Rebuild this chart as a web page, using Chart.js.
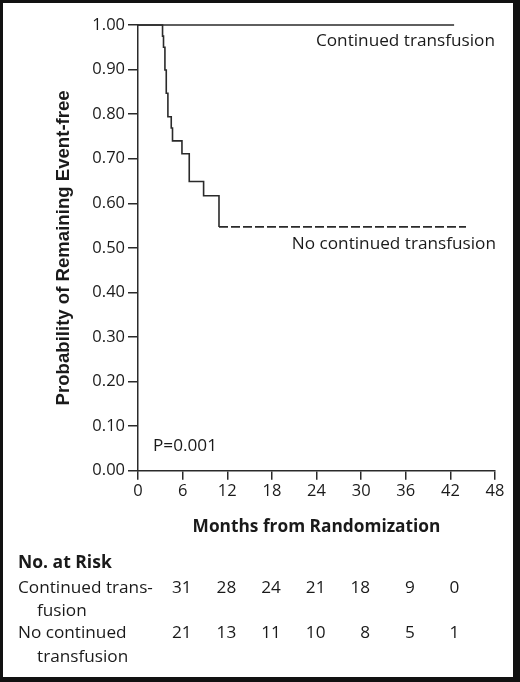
<!DOCTYPE html>
<html>
<head>
<meta charset="utf-8">
<script src="https://cdn.jsdelivr.net/npm/chart.js@4.4.1/dist/chart.umd.min.js"></script>
<style>
  html, body { margin: 0; padding: 0; background: #fff; }
  #frame {
    width: 520px; height: 682px; box-sizing: border-box;
    border-style: solid; border-color: #111;
    border-width: 3px 7px 5px 3px;
  }
  canvas { display: block; }
</style>
</head>
<body>
<div id="frame"><canvas id="chart" width="510" height="674"></canvas></div>
<script>
// Kaplan-Meier curves: months, probability event-free
var contTimes = [0, 42.5];
var contSurv = [1.0, 1.0];
var noContTimes = [0, 3.30, 3.43, 3.62, 3.80, 4.02, 4.47, 4.64, 5.91, 6.89, 8.82, 10.89, 44.1];
var noContSurv = [1.0, 0.975, 0.950, 0.899, 0.847, 0.794, 0.769, 0.740, 0.711, 0.649, 0.617, 0.547, 0.547];

// number at risk table
var riskMonths = [6, 12, 18, 24, 30, 36, 42];
var riskCont = [31, 28, 24, 21, 18, 9, 0];
var riskNoCont = [21, 13, 11, 10, 8, 5, 1];

var xTicks = [0, 6, 12, 18, 24, 30, 36, 42, 48];
var yTicks = [0, 0.1, 0.2, 0.3, 0.4, 0.5, 0.6, 0.7, 0.8, 0.9, 1.0];

function toPoints(xs, ys) {
    return xs.map(function (x, i) { return {x: x, y: ys[i]}; });
}

var ink = '#2a2a2a';
var txt = '#1a1a1a';
var sans = '"Open Sans", "Noto Sans", sans-serif';

var labelsPlugin = {
    id: 'kmLabels',
    afterDraw: function (chart) {
        var ctx = chart.ctx;
        var xs = chart.scales.x;
        var area = chart.chartArea;
        ctx.save();
        ctx.fillStyle = txt;
        ctx.textBaseline = 'middle';
        ctx.font = '17.2px ' + sans;

        // curve labels
        ctx.textAlign = 'right';
        ctx.fillText('Continued transfusion', area.right, 38);
        ctx.fillText('No continued transfusion', area.right + 1, 241);
        ctx.textAlign = 'left';
        ctx.fillText('P=0.001', 150, 443);

        // risk table
        ctx.font = 'bold 17.5px ' + sans;
        ctx.fillText('No. at Risk', 15, 560);
        ctx.font = '17.2px ' + sans;
        ctx.fillText('Continued trans-', 15, 585);
        ctx.fillText('fusion', 34, 608);
        ctx.fillText('No continued', 15, 630);
        ctx.fillText('transfusion', 34, 654);

        ctx.textAlign = 'right';
        riskMonths.forEach(function (m, i) {
            var px = xs.getPixelForValue(m) + 9;
            ctx.fillText(String(riskCont[i]), px, 585);
            ctx.fillText(String(riskNoCont[i]), px, 630);
        });
        ctx.restore();
    }
};

var canvas = document.getElementById('chart');
var config = {
    type: 'line',
    data: {
        datasets: [{
            label: 'Continued transfusion',
            data: toPoints(contTimes, contSurv),
            borderColor: ink,
            borderWidth: 1.6,
            pointRadius: 0,
            stepped: true,
            clip: false
        }, {
            label: 'No continued transfusion',
            data: toPoints(noContTimes, noContSurv),
            borderColor: ink,
            borderWidth: 1.6,
            pointRadius: 0,
            stepped: true,
            clip: false,
            segment: {
                borderDash: function (c) { return c.p0.parsed.x >= 10 ? [9, 3] : undefined; }
            }
        }]
    },
    options: {
        responsive: false,
        animation: false,
        devicePixelRatio: 1,
        layout: { padding: { left: 0, right: 18, top: 22, bottom: 0 } },
        plugins: {
            legend: { display: false },
            tooltip: { enabled: false }
        },
        scales: {
            x: {
                type: 'linear',
                min: 0,
                max: 48,
                afterBuildTicks: function (s) { s.ticks = xTicks.map(function (v) { return {value: v}; }); },
                afterFit: function (s) { s.height = 206.3; },
                grid: { drawOnChartArea: false, tickLength: 9, color: ink, lineWidth: 1.5 },
                border: { color: ink, width: 1.5 },
                ticks: { color: txt, font: { family: sans, size: 16.5 }, padding: 2, maxRotation: 0 },
                title: {
                    display: true,
                    text: 'Months from Randomization',
                    color: txt,
                    font: { family: sans, size: 17.3, weight: 'bold' },
                    padding: { bottom: 140 }
                }
            },
            y: {
                min: 0,
                max: 1,
                afterBuildTicks: function (s) { s.ticks = yTicks.map(function (v) { return {value: v}; }); },
                afterFit: function (s) { s.width = 135; },
                grid: { drawOnChartArea: false, tickLength: 10, color: ink, lineWidth: 1.5 },
                border: { color: ink, width: 1.5 },
                ticks: {
                    color: txt,
                    font: { family: sans, size: 16.5 },
                    padding: 3,
                    callback: function (v) { return Number(v).toFixed(2); }
                },
                title: {
                    display: true,
                    text: 'Probability of Remaining Event-free',
                    color: txt,
                    font: { family: '"Liberation Sans", Arial, sans-serif', size: 18.6, weight: 'bold' },
                    padding: { top: 50 }
                }
            }
        }
    },
    plugins: [labelsPlugin]
};

var kmChart = new Chart(canvas, config);
</script>
</body>
</html>
